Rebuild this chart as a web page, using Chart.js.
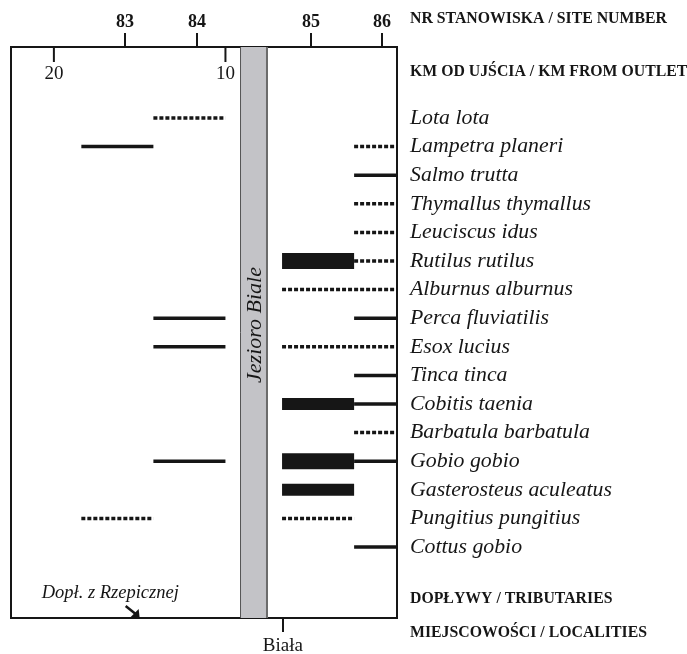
<!DOCTYPE html>
<html>
<head>
<meta charset="utf-8">
<title>Ichtiofauna - rozmieszczenie gatunków</title>
<script src="https://cdn.jsdelivr.net/npm/chart.js@4.4.1/dist/chart.umd.min.js"></script>
<style>
  html, body { margin: 0; padding: 0; background: #fff; }
  canvas { display: block; }
</style>
</head>
<body>
<canvas id="fishChart" width="687" height="654"></canvas>
<script>
// Gatunki ryb (od góry do dołu)
const species = [
  'Lota lota', 'Lampetra planeri', 'Salmo trutta', 'Thymallus thymallus',
  'Leuciscus idus', 'Rutilus rutilus', 'Alburnus alburnus', 'Perca fluviatilis',
  'Esox lucius', 'Tinca tinca', 'Cobitis taenia', 'Barbatula barbatula',
  'Gobio gobio', 'Gasterosteus aculeatus', 'Pungitius pungitius', 'Cottus gobio'
];

// Stanowiska i ich położenie (km od ujścia)
const siteNumbers = ['83', '84', '85', '86'];
const siteKm = [15.85, 11.66, 5.01, 0.87];
const kmTicks = [20, 10];

// Odcinki rzeki przypisane do stanowisk (km od ujścia)
const reachFrom = [18.4, 14.2, 6.7, 2.5];
const reachTo = [14.2, 10.0, 2.5, 0];

// Jezioro, miejscowość, dopływ
const lakeKm = [9.15, 7.52];
const localityKm = 6.65;
const tributaryKm = 15.0;

// [gatunek, odcinek]
const rareRecords = [[0, 1], [1, 3], [3, 3], [4, 3], [5, 3], [6, 2], [6, 3], [8, 2], [8, 3], [11, 3], [14, 0], [14, 2]];
const commonRecords = [[1, 0], [2, 3], [7, 1], [7, 3], [8, 1], [9, 3], [10, 3], [12, 1], [12, 3], [15, 3]];
const abundantRecords = [[10, 2], [13, 2]];
const dominantRecords = [[5, 2], [12, 2]];

const INK = '#161616';
const SERIF = "'Liberation Serif', 'Times New Roman', serif";

function segments(records, style) {
  return records.map(function(r) {
    return Object.assign({
      data: [{ x: reachFrom[r[1]], y: r[0] }, { x: reachTo[r[1]], y: r[0] }],
      borderColor: INK,
      pointRadius: 0,
      fill: false,
      tension: 0,
      borderCapStyle: 'butt'
    }, style);
  });
}

const datasets = [].concat(
  segments(rareRecords, { borderWidth: 3.5, borderDash: [4, 2] }),
  segments(commonRecords, { borderWidth: 3.5 }),
  segments(abundantRecords, { borderWidth: 12 }),
  segments(dominantRecords, { borderWidth: 16 })
);

// Jezioro Białe jako pas w tle
const lakePlugin = {
  id: 'lake',
  beforeDatasetsDraw(chart) {
    const { ctx, chartArea, scales } = chart;
    const x1 = scales.x.getPixelForValue(lakeKm[0]);
    const x2 = scales.x.getPixelForValue(lakeKm[1]);
    ctx.save();
    ctx.fillStyle = '#c3c3c7';
    ctx.fillRect(x1, chartArea.top, x2 - x1, chartArea.bottom - chartArea.top);
    ctx.strokeStyle = '#555';
    ctx.lineWidth = 1;
    ctx.beginPath();
    ctx.moveTo(x1 + 0.5, chartArea.top);
    ctx.lineTo(x1 + 0.5, chartArea.bottom);
    ctx.stroke();
    ctx.strokeStyle = '#6b6b6b';
    ctx.lineWidth = 2;
    ctx.beginPath();
    ctx.moveTo(x2 - 1, chartArea.top);
    ctx.lineTo(x2 - 1, chartArea.bottom);
    ctx.stroke();
    ctx.translate((x1 + x2) / 2 + 1, 325);
    ctx.rotate(-Math.PI / 2);
    ctx.fillStyle = INK;
    ctx.font = 'italic 22px ' + SERIF;
    ctx.textAlign = 'center';
    ctx.textBaseline = 'middle';
    ctx.fillText('Jezioro Biale', 0, 0);
    ctx.restore();
  }
};

// Podziałka km, opisy wierszy nagłówka i dopływ
const annotationsPlugin = {
  id: 'annotations',
  afterDraw(chart) {
    const { ctx, chartArea, scales } = chart;
    const x = scales.x;
    ctx.save();
    ctx.strokeStyle = INK;
    ctx.fillStyle = INK;
    ctx.lineWidth = 2;
    ctx.font = '19px ' + SERIF;
    ctx.textAlign = 'center';
    ctx.textBaseline = 'middle';
    kmTicks.forEach(function(km) {
      const px = x.getPixelForValue(km);
      ctx.beginPath();
      ctx.moveTo(px, chartArea.top);
      ctx.lineTo(px, chartArea.top + 15);
      ctx.stroke();
      ctx.fillText(String(km), px, chartArea.top + 27);
    });

    // nagłówki po prawej stronie
    const hx = scales.y.left + 13;
    ctx.textAlign = 'left';
    ctx.font = 'bold 15.8px ' + SERIF;
    ctx.fillText('NR STANOWISKA / SITE NUMBER', hx, chartArea.top - 28);
    ctx.fillText('KM OD UJŚCIA / KM FROM OUTLET', hx, chartArea.top + 25);
    ctx.fillText('DOPŁYWY / TRIBUTARIES', hx, chartArea.bottom - 19);
    ctx.fillText('MIEJSCOWOŚCI / LOCALITIES', hx, chartArea.bottom + 15);

    // dopływ z Rzepicznej ze strzałką
    const tx = x.getPixelForValue(tributaryKm);
    const ty = chartArea.bottom;
    ctx.font = 'italic 18.5px ' + SERIF;
    ctx.fillText('Dopł. z Rzepicznej', tx - 98, ty - 25);
    ctx.lineWidth = 2.5;
    ctx.beginPath();
    ctx.moveTo(tx - 14, ty - 12);
    ctx.lineTo(tx - 4, ty - 4);
    ctx.stroke();
    ctx.beginPath();
    ctx.moveTo(tx, ty);
    ctx.lineTo(tx - 9, ty - 1);
    ctx.lineTo(tx - 1, ty - 9);
    ctx.closePath();
    ctx.fill();
    ctx.restore();
  }
};

new Chart(document.getElementById('fishChart'), {
  type: 'line',
  data: { datasets: datasets },
  options: {
    responsive: false,
    animation: false,
    layout: { padding: 0 },
    plugins: {
      legend: { display: false },
      tooltip: { enabled: false }
    },
    scales: {
      x: {
        type: 'linear',
        position: 'top',
        reverse: true,
        min: 0,
        max: 22.5,
        afterBuildTicks: function(scale) {
          scale.ticks = siteKm.map(function(v) { return { value: v }; });
        },
        afterFit: function(scale) { scale.height = 47; },
        ticks: {
          autoSkip: false,
          maxRotation: 0,
          padding: 0,
          color: INK,
          font: { family: SERIF, size: 18, weight: 'bold' },
          callback: function(value, index) { return siteNumbers[index]; }
        },
        grid: { drawOnChartArea: false, tickLength: 14, color: INK, lineWidth: 2 },
        border: { display: true, color: INK, width: 2 }
      },
      xb: {
        type: 'linear',
        position: 'bottom',
        reverse: true,
        min: 0,
        max: 22.5,
        afterBuildTicks: function(scale) {
          scale.ticks = [{ value: localityKm }];
        },
        afterFit: function(scale) { scale.height = 36; },
        ticks: {
          autoSkip: false,
          maxRotation: 0,
          padding: 3,
          color: INK,
          font: { family: SERIF, size: 19 },
          callback: function() { return 'Biała'; }
        },
        grid: { drawOnChartArea: false, tickLength: 14, color: INK, lineWidth: 2 },
        border: { display: true, color: INK, width: 2 }
      },
      y: {
        type: 'linear',
        position: 'right',
        reverse: true,
        min: -2.483,
        max: 17.483,
        afterBuildTicks: function(scale) {
          scale.ticks = species.map(function(s, i) { return { value: i }; });
        },
        afterFit: function(scale) { scale.width = 290; },
        ticks: {
          autoSkip: false,
          padding: 13,
          color: INK,
          font: { family: SERIF, size: 21.8, style: 'italic' },
          callback: function(value) { return species[value]; }
        },
        grid: { drawOnChartArea: false, drawTicks: false },
        border: { display: true, color: INK, width: 2 }
      },
      yl: {
        type: 'linear',
        position: 'left',
        min: 0,
        max: 1,
        afterFit: function(scale) { scale.width = 11; },
        ticks: { display: false },
        grid: { drawOnChartArea: false, drawTicks: false },
        border: { display: true, color: INK, width: 2 }
      }
    }
  },
  plugins: [lakePlugin, annotationsPlugin]
});
</script>
</body>
</html>
